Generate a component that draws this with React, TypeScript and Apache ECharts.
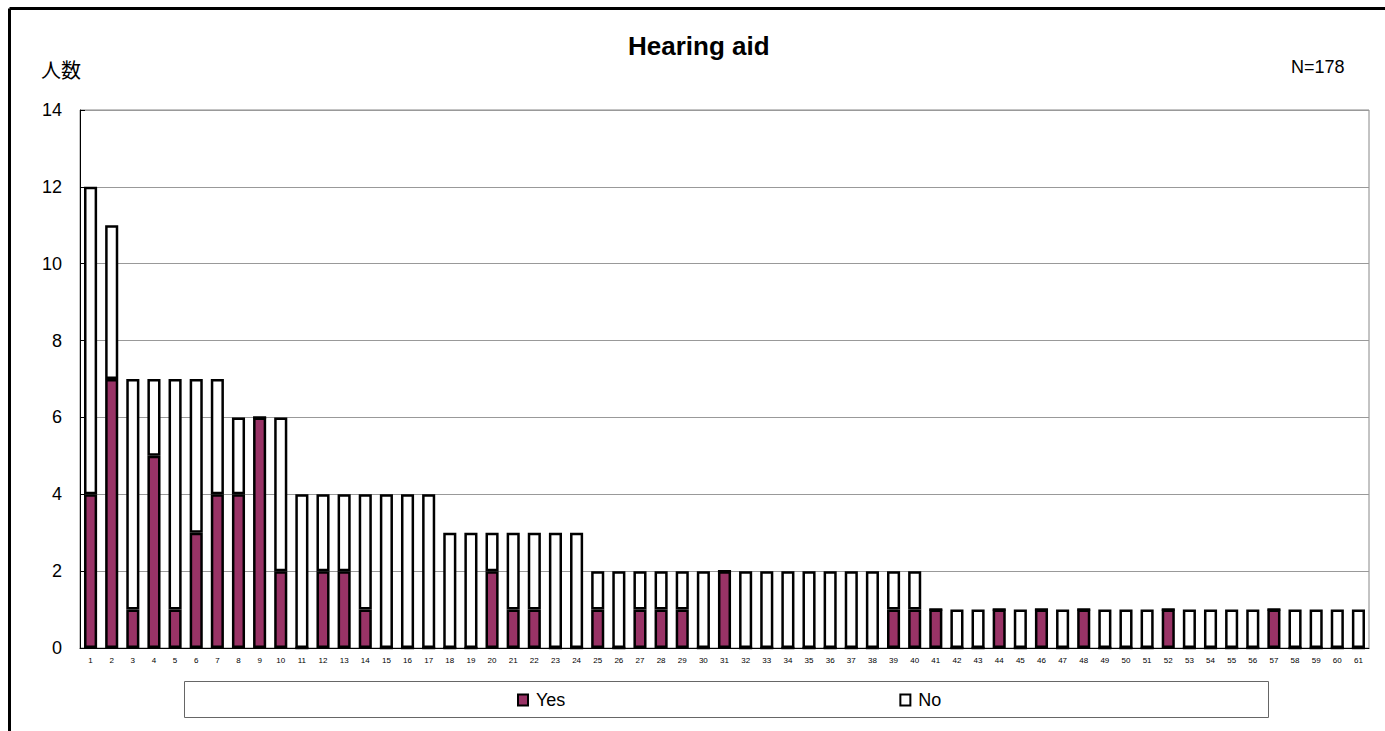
import React, { useEffect, useRef } from "react";
import * as echarts from "echarts";

const categories = Array.from({ length: 61 }, (_, i) => String(i + 1));
const yesValues = [4, 7, 1, 5, 1, 3, 4, 4, 6, 2, 0, 2, 2, 1, 0, 0, 0, 0, 0, 2, 1, 1, 0, 0, 1, 0, 1, 1, 1, 0, 2, 0, 0, 0, 0, 0, 0, 0, 1, 1, 1, 0, 0, 1, 0, 1, 0, 1, 0, 0, 0, 1, 0, 0, 0, 0, 1, 0, 0, 0, 0];
const noValues = [8, 4, 6, 2, 6, 4, 3, 2, 0, 4, 4, 2, 2, 3, 4, 4, 4, 3, 3, 1, 2, 2, 3, 3, 1, 2, 1, 1, 1, 2, 0, 2, 2, 2, 2, 2, 2, 2, 1, 1, 0, 1, 1, 0, 1, 0, 1, 0, 1, 1, 1, 0, 1, 1, 1, 1, 0, 1, 1, 1, 1];
const yTicks = { min: 0, max: 14, interval: 2 };
const seriesNames = ["Yes", "No"];
const titleText = "Hearing aid";
const yName = "人数";
const nText = "N=178";

const FONT = "'Liberation Sans', Arial, 'Noto Sans CJK JP', sans-serif";
const JP = "'Noto Sans CJK JP', sans-serif";

export default function App() {
  const ref = useRef<HTMLDivElement>(null);
  useEffect(() => {
    const chart = echarts.init(ref.current!, undefined, { renderer: "svg" });
    chart.setOption({
      animation: false,
      backgroundColor: "#fff",
      textStyle: { fontFamily: FONT, color: "#000" },
      title: {
        text: titleText,
        left: 623,
        top: 28,
        textStyle: { fontSize: 26, fontWeight: "bold", color: "#000", fontFamily: FONT },
      },
      grid: {
        left: 80,
        right: 16,
        top: 110,
        bottom: 83,
        show: true,
        borderColor: "#888",
        borderWidth: 1,
        containLabel: false,
      },
      legend: {
        left: 512,
        top: 686,
        itemGap: 334,
        itemWidth: 10,
        itemHeight: 11,
        icon: "rect",
        textStyle: { fontSize: 18, color: "#000", fontFamily: FONT, padding: [0, 0, 0, 3] },
        data: seriesNames,
      },
      xAxis: {
        type: "category",
        data: categories,
        axisLine: { lineStyle: { color: "#000", width: 1 } },
        axisTick: { inside: true, length: 3, lineStyle: { color: "#000" } },
        axisLabel: { interval: 0, fontSize: 8, color: "#000", margin: 8 },
      },
      yAxis: {
        type: "value",
        min: yTicks.min,
        max: yTicks.max,
        interval: yTicks.interval,
        axisLine: { show: true, lineStyle: { color: "#000", width: 1 } },
        axisTick: { show: true, inside: true, length: 5, lineStyle: { color: "#000" } },
        axisLabel: { fontSize: 18, color: "#000", margin: 18 },
        splitLine: { lineStyle: { color: "#999", width: 1 } },
      },
      series: [
        {
          name: seriesNames[0],
          type: "bar",
          stack: "total",
          data: yesValues,
          barWidth: "62%",
          itemStyle: { color: "#993366", borderColor: "#000", borderWidth: 2.5 },
        },
        {
          name: seriesNames[1],
          type: "bar",
          stack: "total",
          data: noValues,
          barWidth: "62%",
          itemStyle: { color: "#fff", borderColor: "#000", borderWidth: 2.5 },
        },
      ],
      graphic: [
        { type: "line", shape: { x1: 9.5, y1: 8.5, x2: 1385, y2: 8.5 }, style: { stroke: "#000", lineWidth: 3 } },
        { type: "line", shape: { x1: 9.5, y1: 8.5, x2: 9.5, y2: 731 }, style: { stroke: "#000", lineWidth: 3 } },
        { type: "rect", shape: { x: 184.5, y: 681.5, width: 1084, height: 36 }, style: { fill: "none", stroke: "#666", lineWidth: 1 }, z: -1 },
        { type: "text", x: 41, y: 59, style: { text: yName, font: `20px ${JP}`, fill: "#000" } },
        { type: "text", x: 1291, y: 58, style: { text: nText, font: `18px ${FONT}`, fill: "#000" } },
      ],
    });
    return () => chart.dispose();
  }, []);
  return (
    <div style={{ position: "absolute", left: 0, top: 0, width: 1385, height: 731, overflow: "hidden" }}>
      <div ref={ref} style={{ width: 1385, height: 731 }} />
    </div>
  );
}
